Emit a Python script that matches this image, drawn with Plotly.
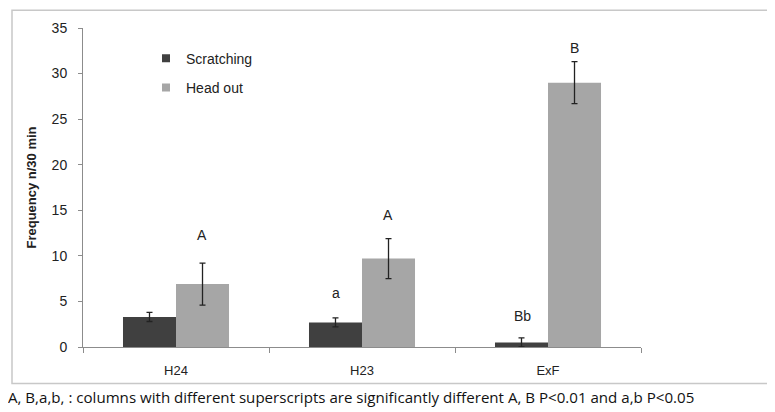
import plotly.graph_objects as go

categories = ["H24", "H23", "ExF"]
scratching = [3.3, 2.7, 0.5]
scratching_err = [0.5, 0.5, 0.5]
head_out = [6.9, 9.7, 29.0]
head_out_err = [2.3, 2.2, 2.3]
y_ticks = [0, 5, 10, 15, 20, 25, 30, 35]
letters_scr = ["", "a", "Bb"]
letters_scr_y = [0, 5.9, 3.4]
letters_head = ["A", "A", "B"]
letters_head_y = [12.3, 14.5, 32.8]
footnote = "A, B,a,b, : columns with different superscripts are significantly different A, B P<0.01 and a,b P<0.05"

# page body has an 8px margin: work in reference pixels, then shift
OFF = 8
W, H = 775 - OFF, 412 - OFF
ml, mr, mt, mb = 83 - OFF, 775 - 641, 23 - OFF, 412 - 347
pw, ph = W - ml - mr, H - mt - mb


def px(xr):
    return (xr - OFF - ml) / pw


def py(yr):
    return (H - (yr - OFF) - mb) / ph


fig = go.Figure()
fig.add_trace(go.Bar(
    name="Scratching", x=categories, y=scratching, showlegend=False,
    marker=dict(color="#404040", line=dict(width=0)),
    error_y=dict(type="data", array=scratching_err, color="#222", thickness=1.3, width=3),
))
fig.add_trace(go.Bar(
    name="Head out", x=categories, y=head_out, showlegend=False,
    marker=dict(color="#a6a6a6", line=dict(width=0)),
    error_y=dict(type="data", array=head_out_err, color="#222", thickness=1.3, width=3),
))
# legend entries (small square keys like the reference)
fig.add_trace(go.Scatter(name="Scratching", x=[None], y=[None], mode="markers",
                         legendgroup="s", marker=dict(symbol="square", size=8, color="#404040")))
fig.add_trace(go.Scatter(name="Head out", x=[None], y=[None], mode="markers",
                         legendgroup="h", marker=dict(symbol="square", size=8, color="#a6a6a6")))

for i, c in enumerate(categories):
    if letters_scr[i]:
        fig.add_annotation(x=c, y=letters_scr_y[i], text=letters_scr[i], showarrow=False,
                           xshift=-26, font=dict(size=14, color="#222", family="Liberation Sans"))
    fig.add_annotation(x=c, y=letters_head_y[i], text=letters_head[i], showarrow=False,
                       xshift=26, font=dict(size=14, color="#222", family="Liberation Sans"))

fig.add_annotation(xref="paper", yref="paper", x=px(OFF), y=py(398),
                   xanchor="left", yanchor="middle", showarrow=False, text=footnote,
                   borderpad=0, xshift=-1,
                   font=dict(size=15.1, color="#111", family="Open Sans"))

fig.add_shape(type="rect", xref="paper", yref="paper",
              x0=px(12), x1=px(769), y0=py(384), y1=py(5),
              line=dict(color="#c8c8c8", width=1.5), layer="below")

fig.update_layout(
    width=W, height=H,
    margin=dict(l=ml, r=mr, t=mt, b=mb),
    paper_bgcolor="white", plot_bgcolor="white",
    barmode="group", bargap=0.43, bargroupgap=0,
    font=dict(family="Liberation Sans", size=12, color="#222"),
    showlegend=True,
    legend=dict(x=px(146), y=py(38), xanchor="left", yanchor="top",
                font=dict(size=14, color="#222"), tracegroupgap=8,
                bgcolor="rgba(0,0,0,0)", itemwidth=30),
    xaxis=dict(showline=True, linecolor="#8c8c8c", linewidth=1, ticks="outside",
               tickson="boundaries", ticklen=5, tickcolor="#8c8c8c",
               ticklabelstandoff=11,
               tickfont=dict(size=13, color="#222")),
    yaxis=dict(range=[0, 35], tickvals=y_ticks, showline=True, linecolor="#8c8c8c",
               linewidth=1, ticks="outside", ticklen=4, tickcolor="#8c8c8c",
               ticklabelstandoff=8,
               showgrid=False, zeroline=False, tickfont=dict(size=14, color="#222"),
               title=dict(text="<b>Frequency n/30 min</b>", font=dict(size=13, color="#222"),
                          standoff=12)),
)

fig.write_html("out.html")
